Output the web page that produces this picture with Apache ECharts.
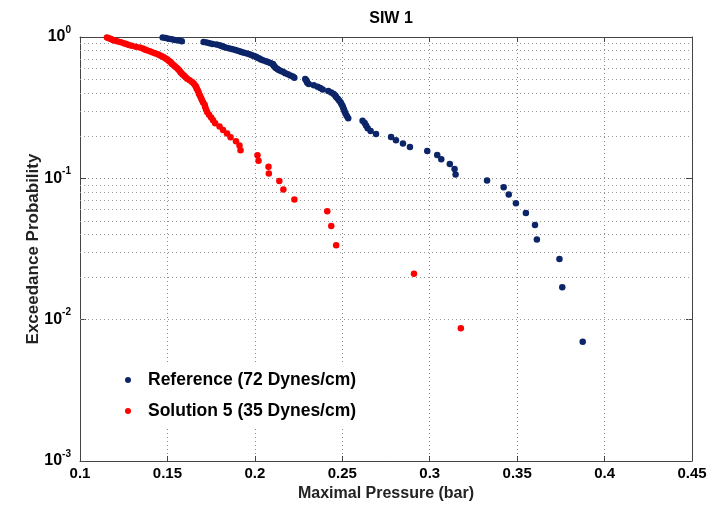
<!DOCTYPE html>
<html>
<head>
<meta charset="utf-8">
<script src="https://cdn.jsdelivr.net/npm/echarts@6/dist/echarts.min.js"></script>
<style>
html,body{margin:0;padding:0;background:#fff;}
#chart{width:720px;height:508px;}
</style>
</head>
<body>
<div id="chart"></div>
<script>
// Reference (72 Dynes/cm) - Maximal Pressure (bar), bottom (lowest probability) to top
var refX = [0.3875,0.3758,0.3742,0.3613,0.3602,0.3550,0.3493,0.3452,0.3423,0.3328,
  0.3148,0.3142,0.3115,0.3066,0.3043,0.2986,0.2887,0.2847,0.2807,0.2779,
  0.2693,0.2662,0.2645,0.2636,0.2628,0.2616,0.2534,0.2526,0.2519,0.2514,
  0.2510,0.2505,0.2501,0.2495,0.2490,0.2482,0.2474,0.2465,0.2460,0.2451,
  0.2437,0.2420,0.2388,0.2374,0.2359,0.2337,0.2308,0.2300,0.2297,0.2294,
  0.2288,0.2226,0.2217,0.2203,0.2189,0.2174,0.2163,0.2149,0.2137,0.2129,
  0.2120,0.2115,0.2109,0.2106,0.2103,0.2089,0.2075,0.2063,0.2046,0.2035,
  0.2026,0.2015,0.2006,0.1995,0.1983,0.1969,0.1955,0.1938,0.1924,0.1912,
  0.1898,0.1884,0.1867,0.1850,0.1832,0.1821,0.1810,0.1798,0.1781,0.1758,
  0.1741,0.1724,0.1707,0.1582,0.1564,0.1542,0.1525,0.1507,0.1490,0.1473];
// Reference - Exceedance Probability
var refY = [0.00697,0.01693,0.02689,0.03685,0.04681,0.05677,0.06673,0.07669,0.08665,0.09661,
  0.1066,0.1165,0.1265,0.1365,0.1464,0.1564,0.1663,0.1763,0.1863,0.1962,
  0.2062,0.2161,0.2261,0.2361,0.2460,0.2560,0.2659,0.2759,0.2859,0.2958,
  0.3058,0.3157,0.3257,0.3357,0.3456,0.3556,0.3655,0.3755,0.3855,0.3954,
  0.4054,0.4153,0.4253,0.4353,0.4452,0.4552,0.4651,0.4751,0.4851,0.4950,
  0.5050,0.5149,0.5249,0.5349,0.5448,0.5548,0.5647,0.5747,0.5847,0.5946,
  0.6046,0.6145,0.6245,0.6345,0.6444,0.6544,0.6643,0.6743,0.6843,0.6942,
  0.7042,0.7141,0.7241,0.7341,0.7440,0.7540,0.7639,0.7739,0.7839,0.7938,
  0.8038,0.8137,0.8237,0.8337,0.8436,0.8536,0.8635,0.8735,0.8835,0.8934,
  0.9034,0.9133,0.9233,0.9333,0.9432,0.9532,0.9631,0.9731,0.9831,0.9930];

// Solution 5 (35 Dynes/cm) - Maximal Pressure (bar)
var solX = [0.3178,0.2910,0.2465,0.2437,0.2414,0.2226,0.2163,0.2140,0.2080,0.2078,
  0.2021,0.2015,0.1918,0.1912,0.1892,0.1861,0.1841,0.1818,0.1798,0.1773,
  0.1761,0.1750,0.1738,0.1727,0.1721,0.1716,0.1713,0.1704,0.1698,0.1693,
  0.1687,0.1681,0.1678,0.1673,0.1667,0.1664,0.1658,0.1650,0.1641,0.1627,
  0.1613,0.1604,0.1596,0.1587,0.1579,0.1573,0.1567,0.1560,0.1553,0.1544,
  0.1536,0.1527,0.1522,0.1516,0.1507,0.1499,0.1490,0.1479,0.1468,0.1456,
  0.1445,0.1428,0.1413,0.1399,0.1382,0.1371,0.1359,0.1342,0.1319,0.1296,
  0.1279,0.1265,0.1251,0.1234,0.1217,0.1202,0.1188,0.1177,0.1165,0.1154];
// Solution 5 - Exceedance Probability
var solY = [0.0087,0.0211,0.0336,0.0460,0.0585,0.0709,0.0834,0.0958,0.1082,0.1206,
  0.1331,0.1455,0.1580,0.1704,0.1828,0.1953,0.2077,0.2201,0.2326,0.2450,
  0.2575,0.2699,0.2823,0.2948,0.3072,0.3197,0.3321,0.3445,0.3570,0.3694,
  0.3818,0.3943,0.4067,0.4192,0.4316,0.4440,0.4565,0.4689,0.4813,0.4938,
  0.5062,0.5187,0.5311,0.5435,0.5560,0.5684,0.5808,0.5933,0.6057,0.6182,
  0.6306,0.6430,0.6555,0.6679,0.6803,0.6928,0.7052,0.7177,0.7301,0.7425,
  0.7550,0.7674,0.7799,0.7923,0.8047,0.8172,0.8296,0.8420,0.8545,0.8669,
  0.8794,0.8918,0.9042,0.9167,0.9291,0.9415,0.9540,0.9664,0.9789,0.9913];

var seriesNames = ['Reference (72 Dynes/cm)', 'Solution 5 (35 Dynes/cm)'];
var xTickStep = 0.05;
var yMinorGrid = [0.002,0.003,0.004,0.005,0.006,0.007,0.008,0.009,
  0.02,0.03,0.04,0.05,0.06,0.07,0.08,0.09,
  0.2,0.3,0.4,0.5,0.6,0.7,0.8,0.9];

var FONT = "'Liberation Sans', Arial, Helvetica, sans-serif";
function pairs(xs, ys){ return xs.map(function(x,i){ return [x, ys[i]]; }); }

var chart = echarts.init(document.getElementById('chart'), null, {renderer:'canvas'});
var axisCol = '#444';
var gridDot = {color:'#8a8a8a', width:1, type:[1,3]};

chart.setOption({
  animation:false,
  backgroundColor:'#fff',
  title:{
    text:'SIW 1', left:386, top:6, textAlign:'center',
    textStyle:{fontFamily:FONT, fontSize:16, fontWeight:'bold', color:'#000'}
  },
  grid:{left:80, top:37, right:28, bottom:47, containLabel:false},
  legend:{
    data:seriesNames, orient:'vertical', left:116, top:362,
    backgroundColor:'#fff', padding:[9,8,8,9], itemGap:13,
    icon:'circle', itemWidth:30, itemHeight:6,
    textStyle:{fontFamily:FONT, fontSize:17.5, fontWeight:'bold', color:'#000'}
  },
  xAxis:[{
    type:'value', min:0.1, max:0.45, interval:xTickStep,
    name:'Maximal Pressure (bar)', nameLocation:'middle', nameGap:25, nameMoveOverlap:false,
    nameTextStyle:{fontFamily:FONT, fontSize:16, fontWeight:'bold', color:'#222'},
    axisLine:{show:true, lineStyle:{color:axisCol}},
    axisTick:{show:true, inside:true, length:5, lineStyle:{color:axisCol}},
    axisLabel:{margin:5, fontFamily:FONT, fontSize:15, fontWeight:'bold', color:'#000',
      formatter:function(v){ return String(+v.toFixed(2)); }},
    splitLine:{show:true, lineStyle:gridDot}
  },{
    type:'value', min:0.1, max:0.45, interval:xTickStep, position:'top',
    axisLine:{show:true, lineStyle:{color:axisCol}},
    axisTick:{show:true, inside:true, length:5, lineStyle:{color:axisCol}},
    axisLabel:{show:false}, splitLine:{show:false}
  }],
  yAxis:[{
    type:'log', logBase:10, min:0.001, max:1,
    name:'Exceedance Probability', nameLocation:'middle', nameGap:38, nameMoveOverlap:false,
    nameTextStyle:{fontFamily:FONT, fontSize:17, fontWeight:'bold', color:'#222'},
    axisLine:{show:true, lineStyle:{color:axisCol}},
    axisTick:{show:true, inside:true, length:6, lineStyle:{color:axisCol}},
    axisLabel:{margin:9, fontFamily:FONT, color:'#000',
      formatter:function(v){
        var e = Math.round(Math.log(v)/Math.LN10);
        return '{b|10}{s|' + e + '}';
      },
      rich:{
        b:{fontFamily:FONT, fontSize:16, fontWeight:'bold', color:'#000', lineHeight:24},
        s:{fontFamily:FONT, fontSize:10, fontWeight:'bold', color:'#000', verticalAlign:'top', lineHeight:24}
      }
    },
    splitLine:{show:true, lineStyle:gridDot}
  },{
    type:'log', logBase:10, min:0.001, max:1, position:'right',
    axisLine:{show:true, lineStyle:{color:axisCol}},
    axisTick:{show:true, inside:true, length:6, lineStyle:{color:axisCol}},
    axisLabel:{show:false}, splitLine:{show:false}
  }],
  series:[{
    name:seriesNames[0], type:'scatter', xAxisIndex:0, yAxisIndex:0,
    symbol:'circle', symbolSize:6.5, z:3,
    itemStyle:{color:'#0c2468', opacity:1},
    data:pairs(refX, refY),
    markLine:{
      silent:true, z:1, symbol:['none','none'], label:{show:false},
      lineStyle:{color:'#9a9a9a', width:1, type:[1,3]},
      emphasis:{disabled:true},
      data:yMinorGrid.map(function(v){ return {yAxis:v}; })
    }
  },{
    name:seriesNames[1], type:'scatter', xAxisIndex:0, yAxisIndex:0,
    symbol:'circle', symbolSize:6.5, z:3,
    itemStyle:{color:'#ff0000', opacity:1},
    data:pairs(solX, solY)
  }]
});
</script>
</body>
</html>
